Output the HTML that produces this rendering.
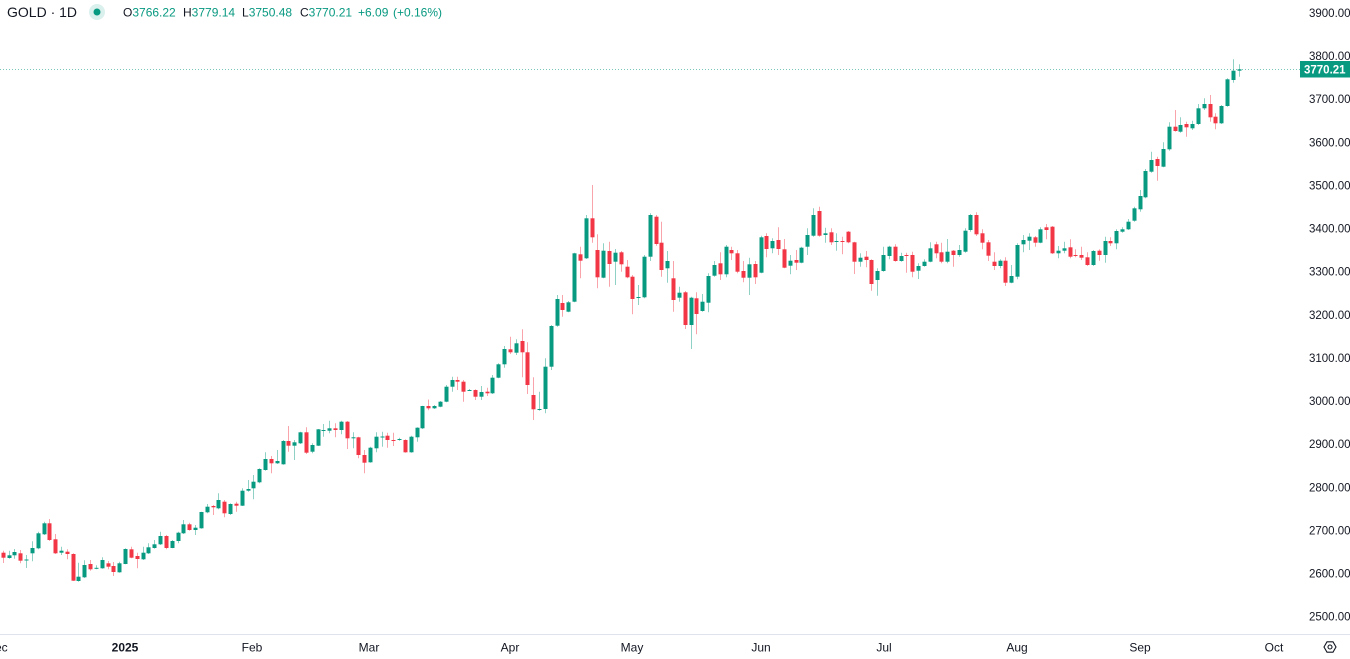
<!DOCTYPE html>
<html>
<head>
<meta charset="utf-8">
<style>
  html,body{margin:0;padding:0;background:#ffffff;}
  body{width:1350px;height:659px;overflow:hidden;position:relative;font-family:"Liberation Sans",Arial,sans-serif;}
  svg{position:absolute;left:0;top:0;}
  text{font-family:"Liberation Sans",Arial,sans-serif;}
</style>
</head>
<body>
<svg id="c" width="1350" height="659" viewBox="0 0 1350 659" xmlns="http://www.w3.org/2000/svg">
  <rect x="0" y="0" width="1350" height="659" fill="#ffffff"/>
  <!-- price line -->
  <line x1="0" y1="69.5" x2="1300" y2="69.5" stroke="#089981" stroke-opacity="0.55" stroke-width="1" stroke-dasharray="1 2"/>
  <g id="cg"></g>

  <!-- header -->
  <text x="7" y="17" font-size="14" fill="#131722">GOLD · 1D</text>
  <circle cx="97" cy="12" r="8" fill="#089981" fill-opacity="0.15"/>
  <circle cx="97" cy="12" r="3.5" fill="#089981"/>
  <g font-size="12">
    <text x="123" y="16.3" fill="#131722">O<tspan fill="#089981">3766.22</tspan></text>
    <text x="183" y="16.3" fill="#131722">H<tspan fill="#089981">3779.14</tspan></text>
    <text x="242" y="16.3" fill="#131722">L<tspan fill="#089981">3750.48</tspan></text>
    <text x="300" y="16.3" fill="#131722">C<tspan fill="#089981">3770.21</tspan></text>
    <text x="358" y="16.3" fill="#089981">+6.09</text>
    <text x="393" y="16.3" fill="#089981">(+0.16%)</text>
  </g>

  <!-- price axis labels -->
  <g font-size="11.5" fill="#131722">
    <text x="1309" y="17">3900.00</text>
    <text x="1309" y="60">3800.00</text>
    <text x="1309" y="103.1">3700.00</text>
    <text x="1309" y="146.3">3600.00</text>
    <text x="1309" y="189.4">3500.00</text>
    <text x="1309" y="232.5">3400.00</text>
    <text x="1309" y="275.7">3300.00</text>
    <text x="1309" y="318.8">3200.00</text>
    <text x="1309" y="361.9">3100.00</text>
    <text x="1309" y="405">3000.00</text>
    <text x="1309" y="448.2">2900.00</text>
    <text x="1309" y="491.3">2800.00</text>
    <text x="1309" y="534.4">2700.00</text>
    <text x="1309" y="577.6">2600.00</text>
    <text x="1309" y="620.7">2500.00</text>
  </g>

  <!-- last price label -->
  <rect x="1300" y="61" width="50" height="16.5" fill="#089981"/>
  <text x="1304" y="73.5" font-size="11.5" font-weight="bold" fill="#ffffff">3770.21</text>

  <!-- time axis -->
  <line x1="0" y1="634.5" x2="1350" y2="634.5" stroke="#e0e3eb" stroke-width="1"/>
  <g font-size="12" fill="#131722" text-anchor="middle">
    <text x="-3" y="651.5">Dec</text>
    <text x="125" y="651.5" font-weight="bold">2025</text>
    <text x="252" y="651.5">Feb</text>
    <text x="369" y="651.5">Mar</text>
    <text x="510" y="651.5">Apr</text>
    <text x="632" y="651.5">May</text>
    <text x="761" y="651.5">Jun</text>
    <text x="884" y="651.5">Jul</text>
    <text x="1017" y="651.5">Aug</text>
    <text x="1140" y="651.5">Sep</text>
    <text x="1274" y="651.5">Oct</text>
  </g>

  <!-- settings icon -->
  <polygon points="1336,647 1333,652.2 1327,652.2 1324,647 1327,641.8 1333,641.8" fill="none" stroke="#131722" stroke-width="1.1"/>
  <circle cx="1330" cy="647" r="2" fill="none" stroke="#131722" stroke-width="1.1"/>
</svg>
<script>
const D=[
['r',552.7,557.7,550.7,563],['g',555.3,558,550.7,558.7],['g',552,555.3,549,558.7],['r',553.3,560.7,550,563.3],['g',559.5,560.5,555,568],
['g',548,553.3,541.3,561.3],['g',533.3,548.3,531.7,549.3],['g',523.3,534.3,521.7,535],['r',523.3,540,519,541],['r',539.3,553.3,534,554],
['g',550.7,552.7,546.7,555],['r',551.7,554,549.3,559.3],['r',554,580.7,553.3,581],['g',576.7,581,562.7,581.7],['g',565,577.3,560.3,578],
['r',564,569.3,560,570.7],['g',567.8,568.8,565.3,569.3],['g',560,568.3,557.3,568.7],['r',563.3,566.7,561,569.3],['r',566,572,562,576],
['g',563.3,572.3,561.7,572.7],['g',549,564,548.3,564.3],['r',549.3,557.7,546.7,558.3],['r',556,559,552.7,568.3],['g',552.7,559.3,546.7,560],
['g',547.3,553.3,543.3,554],['g',544.3,548,540,548.7],['g',536,544.3,531.7,545],['r',536,548,535,549.3],['g',541,548,540,548.3],
['g',532.7,541,531.7,543.3],['g',524.3,533.3,520,534],['r',524.3,530,522.7,530.7],['g',527.7,530,525,535],['g',512,528.3,511.7,528.7],
['g',506.7,512.3,504,513.3],['r',506,507.3,505,515],['g',500,508.3,493.3,509.3],['r',501.7,513.3,500,517.3],['g',504,514,503.3,515],
['r',503.7,505.7,501.7,511.7],['g',490.7,505.7,488.3,506],['g',489,490.7,480,491.7],['g',481.7,488.3,475,499.3],['g',469,482.3,468.3,483.3],
['g',459,470,452.3,470.7],['r',459,463.3,456,473.3],['g',461,463.3,450,464],['g',441,464.3,440,464.7],['r',441,445.7,426,451.7],
['g',442.3,445.7,440,460],['g',432.3,443.3,431.7,444],['r',432.3,452.7,427.3,454],['g',445,451.7,443.3,453.3],['g',429.3,445.7,429,446],
['g',430,431,424,436.7],['g',428.3,430.7,420.7,433.3],['r',428.3,430,423.3,437.3],['g',421.7,430,420.7,434.3],['r',421.7,438.3,421,449],
['g',437.3,438.3,432.3,448.3],['r',437.3,455,436.7,458.3],['r',455,462.7,450,473.3],['g',447.7,462.3,446.7,462.7],['g',436.7,448.3,432.3,452.3],
['g',436.5,437.5,431.7,446.7],['r',435.7,440,432.7,447.7],['r',440,441,432.7,446],['g',439,440,437.7,440.7],['r',440,452.3,439.3,452.7],
['g',436.7,452.3,435.7,452.7],['g',427.7,437.3,427.3,441.7],['g',406,428.3,405.7,429],['r',406,408.3,399.5,410.3],['g',406,408.3,405,409],
['g',401.7,406.7,401,407.3],['g',386.7,401.7,385,402.3],['g',380,386.7,376.7,391.7],['r',380,381.7,376.7,390],['r',381.7,391.7,380,401.7],
['g',390,391,389,391],['r',390,396.7,389.3,400],['g',392,396.7,386,400],['r',391.7,393.3,387.7,396],['g',377.7,393.3,375,394],
['g',364.3,377.7,363.3,378.3],['g',349,364.3,346,367.7],['r',349.3,352.3,336.7,354],['g',343.3,352.7,339.3,355],['r',341,352.3,329.3,377.3],
['r',352.3,385,342.3,394],['r',395,409.3,377.3,420],['g',409,410,391.7,410.7],['g',366.7,409,358.3,413.3],['g',326,366.7,325,370],
['g',299,325.7,295,326.7],['r',303,310,295,316.7],['g',302.3,311.7,301,312.3],['g',253.3,301.7,252.7,302.3],['r',254.3,260.7,246.7,278.3],
['g',218.3,258.3,215,259],['r',218.3,237.3,185,242.7],['r',250,277.3,234.3,288.3],['g',250.7,277.7,243.3,278.3],['r',251,264,241.7,286.7],
['g',252.7,261.7,249,285],['r',252.3,264.3,251,271.7],['r',266.7,277.3,260,278.3],['r',276.7,299,275,314.3],['g',297,298,285,305],
['g',256.7,297.3,255,298.3],['g',215,256.7,213.3,261],['r',216.7,244,215,245.7],['r',242.7,270,221.7,276.7],['g',261,268.3,251,282.7],
['r',278.3,300,261,311.7],['g',292.7,297.7,286.7,301.7],['r',292.3,325,291,329],['g',297.7,325,296.7,349],['r',298.3,314,292.3,334.3],
['g',301.7,311,294,311.7],['g',276,302.7,273.3,312.3],['g',265,275.7,261,276.7],['r',263.3,274.3,252.3,280],['g',246.7,274.3,245,277.3],
['r',250,253.3,246.7,260],['r',253.3,271.7,250,273.3],['r',271,277.7,261,282.3],['g',264.3,277.7,257.7,295],['r',264,277.3,261,284],
['g',237.3,272.7,235.7,273.3],['r',236,249,233.3,257.3],['g',241,248.3,238.3,253.3],['r',240,249,227.3,255],['r',249.3,267.7,239,268.3],
['g',260.7,265.7,255,274.3],['r',260,262.7,250,270],['g',247.7,262.7,246.7,263.3],['g',235,246.7,228.3,255],['g',215,235.7,208.3,236.7],
['r',211,235.7,206.7,236.7],['g',233.3,235,227.7,242.7],['r',232.3,242.3,228.3,245],['g',241,242,233.3,250.7],['r',241,242,236.7,254.3],
['r',231.7,242.3,231,243.3],['r',242.3,261.7,241.7,274],['g',257.7,261.7,253.3,266.7],['r',256.7,260,251,267.3],['r',260,284,259.3,290.7],
['g',271,280,268.3,295.7],['g',255,271,246.7,271.7],['g',246.7,256,245.7,259.3],['r',246.7,261,244.3,261.7],['g',256,261,252.7,261.7],
['r',255,256,252.7,272.7],['r',255,271.7,251.7,277.3],['g',266,270.7,263.3,279],['g',261.7,266,259.3,266.7],['g',248.3,261.7,242.3,262.3],
['r',244.3,253.3,241.7,258.3],['r',252.3,261.7,242.7,263.3],['g',251.7,261.7,239,263.3],['r',250.7,255,250,266.7],['g',250,255,245,256.7],
['g',230.7,251.7,228.3,252.7],['g',215,230,214,231.7],['r',215,234.3,212.3,236],['r',233.3,242.7,229.3,249.3],['r',242.3,255.7,240,261],
['r',261.7,266,252.3,270],['g',260.7,266,259.3,268.3],['r',260.7,282.7,257.3,286],['g',276,282.7,265,283.3],['g',245,276.7,243.3,279.3],
['g',240,244.3,235,252.3],['g',236.7,240.7,233.3,250],['r',237.3,242.7,236,246.7],['g',229.3,242.7,227.3,243.3],['r',227.3,230,224,239.3],
['r',226.7,253.3,226,254],['g',250.7,253.3,246,258.3],['g',248.3,250.7,241.7,253.3],['r',247.3,256.7,239.3,258.3],['r',255,256,249.3,257.3],
['r',255,257.7,246.7,260],['r',257.3,265,252.3,266],['g',251,265,250,266],['r',250.7,255,249.3,260.7],['g',241,255,236.7,262.7],
['r',241,243.3,237.3,246],['g',231,243.3,229.3,249.3],['g',229.3,231.7,227.3,232.7],['g',221.7,229.3,219,230],['g',208.3,220.7,206.7,221.7],
['g',196,209.3,190,211.7],['g',171,197.3,169,198.3],['g',160,171.7,151.7,172.7],['r',159,166,156.7,180.7],['g',149,166.7,142.3,167.3],
['g',126.7,149.3,122.3,150.7],['r',126.7,131,110,131.7],['g',125,131.7,117.3,132.7],['r',124,127.3,121.7,136.7],['g',124,128.3,120.7,130],
['g',108.3,124,104,125],['g',104,108.3,98.3,110],['r',104,117.3,95,121.7],['r',116.7,123.3,113.3,129.3],['g',106,123.3,105,124],
['g',79.3,106,78.3,106.7],['g',70.7,80,59.3,82.7],['g',69.3,70.7,64.3,76.7]
];
(function(){
  var ns='http://www.w3.org/2000/svg';
  var g=document.getElementById('cg');
  for(var i=0;i<D.length;i++){
    var d=D[i];
    var cx=2.7+5.83*i;
    var R=Math.round(cx);
    var col=d[0]==='g'?'#089981':'#f23645';
    var l=document.createElementNS(ns,'line');
    l.setAttribute('x1',R+0.5);l.setAttribute('x2',R+0.5);
    l.setAttribute('y1',d[3]);l.setAttribute('y2',d[4]);
    l.setAttribute('stroke',col);l.setAttribute('stroke-opacity','0.45');l.setAttribute('stroke-width','1');
    g.appendChild(l);
    var r=document.createElementNS(ns,'rect');
    var h=Math.max(d[2]-d[1],1);
    r.setAttribute('x',R-1.5);r.setAttribute('y',d[1]);
    r.setAttribute('width',4);r.setAttribute('height',h);
    r.setAttribute('fill',col);
    g.appendChild(r);
  }
})();
</script>
</body>
</html>
